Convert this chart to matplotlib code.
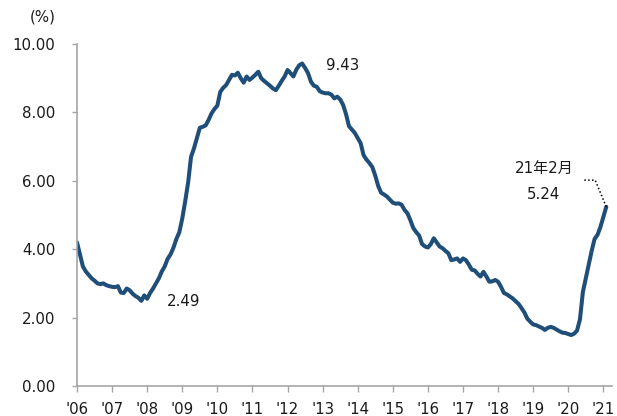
import matplotlib
matplotlib.use("Agg")
import matplotlib.pyplot as plt
import numpy as np

plt.rcParams['font.family'] = ['DejaVu Sans', 'Noto Sans CJK JP']

# Monthly rate (%), Jan 2006 - Feb 2021
rate_2006 = [4.20, 3.85, 3.50, 3.35, 3.25, 3.15, 3.08, 3.00, 2.98, 3.00, 2.95, 2.92]
rate_2007 = [2.90, 2.89, 2.92, 2.73, 2.72, 2.85, 2.80, 2.70, 2.63, 2.58, 2.49, 2.65]
rate_2008 = [2.55, 2.72, 2.85, 3.00, 3.15, 3.35, 3.50, 3.72, 3.85, 4.05, 4.30, 4.50]
rate_2009 = [4.90, 5.40, 5.95, 6.70, 6.95, 7.25, 7.55, 7.58, 7.62, 7.78, 7.97, 8.10]
rate_2010 = [8.20, 8.60, 8.72, 8.80, 8.95, 9.10, 9.08, 9.16, 9.00, 8.87, 9.05, 8.95]
rate_2011 = [9.02, 9.10, 9.19, 9.00, 8.92, 8.85, 8.78, 8.70, 8.65, 8.78, 8.92, 9.05]
rate_2012 = [9.24, 9.15, 9.05, 9.25, 9.38, 9.43, 9.30, 9.15, 8.90, 8.78, 8.75, 8.62]
rate_2013 = [8.58, 8.56, 8.56, 8.52, 8.41, 8.46, 8.38, 8.22, 7.95, 7.60, 7.50, 7.40]
rate_2014 = [7.25, 7.10, 6.75, 6.62, 6.52, 6.40, 6.15, 5.85, 5.65, 5.60, 5.54, 5.45]
rate_2015 = [5.36, 5.33, 5.34, 5.30, 5.15, 5.05, 4.85, 4.62, 4.50, 4.40, 4.15, 4.08]
rate_2016 = [4.05, 4.15, 4.32, 4.20, 4.08, 4.03, 3.95, 3.88, 3.68, 3.70, 3.73, 3.63]
rate_2017 = [3.73, 3.68, 3.55, 3.40, 3.38, 3.28, 3.20, 3.34, 3.20, 3.05, 3.06, 3.10]
rate_2018 = [3.05, 2.90, 2.72, 2.68, 2.62, 2.56, 2.48, 2.40, 2.28, 2.15, 1.97, 1.88]
rate_2019 = [1.80, 1.78, 1.74, 1.70, 1.64, 1.70, 1.73, 1.70, 1.65, 1.60, 1.56, 1.55]
rate_2020 = [1.52, 1.49, 1.53, 1.62, 1.95, 2.75, 3.15, 3.55, 3.95, 4.30, 4.42, 4.65]
rate_2021 = [4.95, 5.24]

year_labels = ["'06", "'07", "'08", "'09", "'10", "'11", "'12", "'13",
               "'14", "'15", "'16", "'17", "'18", "'19", "'20", "'21"]
y_ticks = [0, 2, 4, 6, 8, 10]

rate = np.array(rate_2006 + rate_2007 + rate_2008 + rate_2009 + rate_2010 +
                rate_2011 + rate_2012 + rate_2013 + rate_2014 + rate_2015 +
                rate_2016 + rate_2017 + rate_2018 + rate_2019 + rate_2020 +
                rate_2021)
months = np.arange(len(rate))

fig = plt.figure(figsize=(6.17, 4.16), dpi=100)
ax = fig.add_axes([0.1248, 0.0721, 0.8673, 0.8221])

line_color = '#1F4E79'
axis_color = '#A6A6A6'
text_color = '#1a1a1a'

ax.plot(months, rate, color=line_color, lw=2.9, solid_joinstyle='round',
        solid_capstyle='round')

ax.set_xlim(0, 183)
ax.set_ylim(0, 10)

ax.set_yticks(y_ticks)
ax.set_yticklabels([f"{v:.2f}" for v in y_ticks])
ax.set_xticks(np.arange(len(year_labels)) * 12)
ax.set_xticklabels(year_labels)

for side in ['top', 'right']:
    ax.spines[side].set_visible(False)
for side in ['left', 'bottom']:
    ax.spines[side].set_color(axis_color)
    ax.spines[side].set_linewidth(1.2)

ax.tick_params(axis='y', length=3.6, width=1.0, color=axis_color, pad=12,
               labelsize=10.8, labelcolor=text_color)
ax.tick_params(axis='x', length=4.3, width=1.0, color=axis_color, pad=7,
               labelsize=10.8, labelcolor=text_color)

fig.text(43 / 617, 1 - 17 / 416, '(%)', ha='center', va='center',
         fontsize=10.8, color=text_color)

# Value callouts
i_min = int(np.argmin(rate[:36]))
i_max = int(np.argmax(rate))
i_last = len(rate) - 1

ax.text(i_min + 14.3, rate[i_min] - 0.03, f"{rate[i_min]:.2f}", ha='center',
        va='center', fontsize=10.8, color=text_color)
ax.text(i_max + 14, rate[i_max] - 0.06, f"{rate[i_max]:.2f}", ha='center',
        va='center', fontsize=10.8, color=text_color)
ax.text(159.7, 6.37, '21年2月', ha='center', va='center', fontsize=10.8,
        color=text_color)
ax.text(159.7, rate[i_last] + 0.37, f"{rate[i_last]:.2f}", ha='center',
        va='center', fontsize=10.8, color=text_color)
ax.plot([173.5, 177.2, i_last], [6.02, 6.02, rate[i_last]], color='black',
        lw=1.1, ls=(0, (1, 1.5)))

fig.savefig('out.png', dpi=100, facecolor='white')
